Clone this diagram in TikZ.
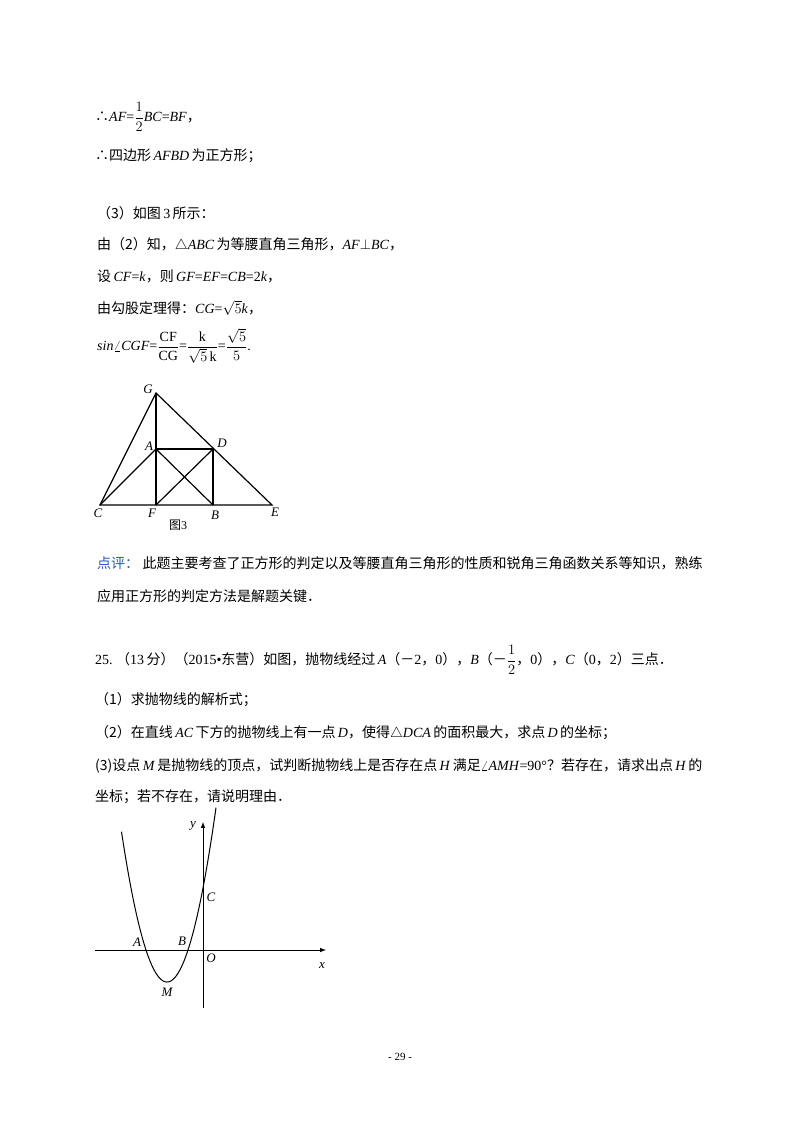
\documentclass[tikz,border=0pt]{standalone}
\usepackage{fontspec}
\setmainfont{Liberation Serif}
\newfontfamily\zhf{Noto Sans CJK SC}
\newcommand{\zh}[1]{{\zhf #1}}
\newcommand{\li}[1]{\textit{#1}}
\definecolor{cblue}{RGB}{40,90,200}
\begin{document}
\begin{tikzpicture}[x=1pt,y=-1pt,
  txt/.style={anchor=west,inner sep=0pt,font=\fontsize{14}{16}\selectfont},
  lbl/.style={inner sep=0pt,font=\fontsize{13}{14}\selectfont\itshape},
  seg/.style={line width=1.2pt}]
\useasboundingbox[fill=white] (0,0) rectangle (800,1132);
% text block 1
\node[txt] (l1) at (95,117) {\zh{∴}\li{AF}=$\displaystyle\frac{1}{2}$\li{BC}=\li{BF}\zh{，}};
\node[txt] (l2) at (95,156) {\zh{∴四边形}\,\li{AFBD}\,\zh{为正方形；}};
\node[txt] (l3) at (97,213) {\zh{（3）如图}\,3\,\zh{所示：}};
\node[txt] (l4) at (97,245) {\zh{由（2）知，}$\triangle$\li{ABC}\,\zh{为等腰直角三角形，}\li{AF}$\perp$\li{BC}\zh{，}};
\node[txt] (l5) at (97,276) {\zh{设}\,\li{CF}=\li{k}\zh{，则}\,\li{GF}=\li{EF}=\li{CB}=2\li{k}\zh{，}};
\node[txt] (l6) at (97,308) {\zh{由勾股定理得：}\li{CG}=$\sqrt{5}$\li{k}\zh{，}};
\node[txt] (l7) at (97,346) {\li{sin}$\angle$\li{CGF}=$\displaystyle\frac{\mathrm{CF}}{\mathrm{CG}}$=$\displaystyle\frac{\mathrm{k}}{\sqrt{5}\,\mathrm{k}}$=$\displaystyle\frac{\sqrt{5}}{5}$.};
% figure 3
\coordinate (G) at (156,393);
\coordinate (A) at (156,449);
\coordinate (D) at (213,449);
\coordinate (C) at (100,505);
\coordinate (F) at (156,505);
\coordinate (B) at (213,505);
\coordinate (E) at (272,505);
\draw[seg] (C) -- (G) -- (E) -- cycle;
\draw[seg] (G) -- (F);
\draw[seg] (A) -- (D) -- (B);
\draw[seg] (C) -- (A) -- (B);
\draw[seg] (F) -- (D);
\node[lbl] (lG) at (148,389) {G};
\node[lbl] (lA) at (149,446) {A};
\node[lbl] (lD) at (222,443) {D};
\node[lbl] (lC) at (98,513) {C};
\node[lbl] (lF) at (152,513) {F};
\node[lbl] (lB) at (215,515) {B};
\node[lbl] (lE) at (275,512) {E};
\node[inner sep=0pt,font=\fontsize{12}{13}\selectfont] (cap) at (178,525) {\zh{图}3};
% comment
\node[txt] (p1) at (97,563) {{\zhf\color{cblue}点评：}\ \zh{此题主要考查了正方形的判定以及等腰直角三角形的性质和锐角三角函数关系等知识，熟练}};
\node[txt] (p2) at (97,596) {\zh{应用正方形的判定方法是解题关键．}};
% problem 25
\node[txt] (q0) at (95,660) {25.\ \zh{（}13\,\zh{分）（}2015\textbullet\zh{东营）如图，抛物线经过}\,\li{A}\zh{（－}2\zh{，}0\zh{），}\li{B}\zh{（－}$\displaystyle\frac{1}{2}$\zh{，}0\zh{），}\li{C}\zh{（}0\zh{，}2\zh{）三点．}};
\node[txt] (q1) at (95,700) {\zh{（1）求抛物线的解析式；}};
\node[txt] (q2) at (95,733) {\zh{（2）在直线}\,\li{AC}\,\zh{下方的抛物线上有一点}\,\li{D}\zh{，使得}$\triangle$\li{DCA}\,\zh{的面积最大，求点}\,\li{D}\,\zh{的坐标；}};
\node[txt] (q3) at (95,766) {\zh{(3)设点}\,\li{M}\,\zh{是抛物线的顶点，试判断抛物线上是否存在点}\,\li{H}\,\zh{满足}$\angle$\li{AMH}=90°\zh{？若存在，请求出点}\,\li{H}\,\zh{的}};
\node[txt] (q4) at (95,797) {\zh{坐标；若不存在，请说明理由．}};
% parabola figure
\coordinate (xs) at (95,950);
\coordinate (xe) at (326,950);
\coordinate (ys) at (203,1008);
\coordinate (ye) at (203,822);
\draw[line width=1pt,-latex] (xs) -- (xe);
\draw[line width=1pt,-latex] (ys) -- (ye);
\draw[line width=1pt,smooth,samples=80,domain=121.5:216] plot (\x,{950-0.0726*(\x-146)*(\x-188)});
\node[lbl] (pA) at (137,942) {A};
\node[lbl] (pB) at (182,941) {B};
\node[lbl] (pC) at (211,897) {C};
\node[lbl] (pO) at (211,958) {O};
\node[lbl] (pM) at (167,992) {M};
\node[lbl] (px) at (322,966) {x};
\node[lbl] (py) at (193,826) {y};
\node[inner sep=0pt,font=\fontsize{11}{12}\selectfont] (pg) at (400,1057) {- 29 -};
\end{tikzpicture}
\end{document}
